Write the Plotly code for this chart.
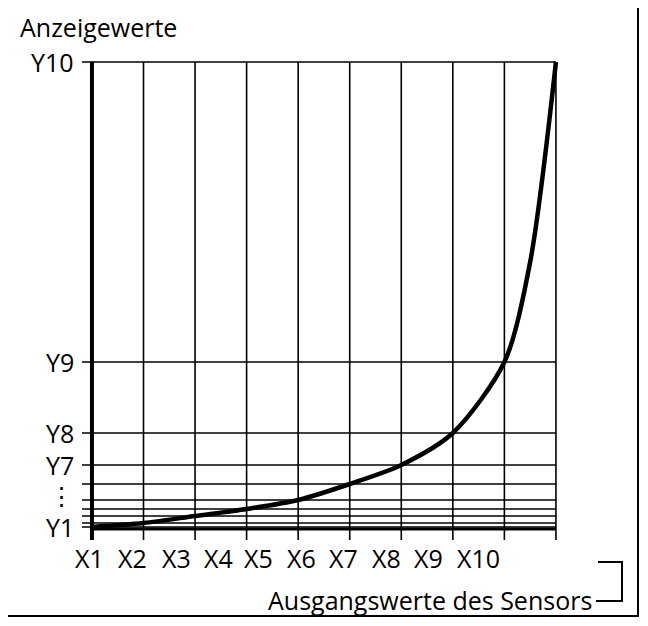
import plotly.graph_objects as go

x_labels = ["X1","X2","X3","X4","X5","X6","X7","X8","X9","X10"]
x_grid = [1,2,3,4,5,6,7,8,9,10]
x_label_pos = [0.96,1.79,2.64,3.45,4.24,5.07,5.88,6.71,7.52,8.49]
levels = [0,4,11,18,27,43,62,94,165,465]
curve_x = [1,2,3,4,5,6,7,8,9,9.5,10]
curve_y = [0,4,11,18,27,43,62,94,165,265,465]
y_labels = ["Y1","⋮","Y7","Y8","Y9","Y10"]
y_label_pos = [0,32,62,94,165,465]

OFF = 8
W,H = 632,610
L,R,T,B = 74,82,52,76
xr = [0.807, 10.04]
yr = [-15, 467]
def px(p): return (p-OFF-L)/(W-L-R)
def py(p): return (H-B-(p-OFF))/(H-T-B)

fig = go.Figure()
for xv in x_grid:
    fig.add_trace(go.Scatter(x=[xv,xv], y=[-13,465], mode="lines",
        line=dict(color="black", width=4 if xv==1 else 1.6), hoverinfo="skip"))
for yv in levels:
    fig.add_trace(go.Scatter(x=[0.807,10], y=[yv,yv], mode="lines",
        line=dict(color="black", width=1.6), hoverinfo="skip"))
fig.add_trace(go.Scatter(x=[1,10], y=[-2,-2], mode="lines", line=dict(color="black", width=3)))
fig.add_trace(go.Scatter(x=curve_x, y=curve_y, mode="lines",
    line=dict(color="black", width=4.5, shape="spline", smoothing=0.8)))

font = dict(family="Open Sans", size=25, color="black")
for lab, pos in zip(x_labels, x_label_pos):
    fig.add_annotation(x=pos, y=py(558), xref="x", yref="paper", text=lab, showarrow=False,
        yanchor="middle", xanchor="center", font=font)
for lab, pos in zip(y_labels, y_label_pos):
    fig.add_annotation(x=px(76), y=pos, xref="paper", yref="y", text=lab, showarrow=False,
        xanchor="right", yanchor="middle", font=font)
fig.add_annotation(x=px(18), y=py(27), xref="paper", yref="paper", text="Anzeigewerte",
    showarrow=False, xanchor="left", yanchor="middle", font=font)
fig.add_annotation(x=px(594), y=py(600), xref="paper", yref="paper", text="Ausgangswerte des Sensors",
    showarrow=False, xanchor="right", yanchor="middle", font=font)

fig.add_shape(type="rect", xref="paper", yref="paper", x0=px(4), x1=px(638), y0=py(616), y1=py(6),
    line=dict(color="black", width=2))
fig.add_shape(type="path", xref="paper", yref="paper",
    path=f"M {px(596)},{py(601)} L {px(622)},{py(601)} L {px(622)},{py(562)} L {px(598)},{py(562)}",
    line=dict(color="black", width=2))

fig.update_layout(width=W, height=H, margin=dict(l=L,r=R,t=T,b=B), showlegend=False,
    plot_bgcolor="white", paper_bgcolor="white",
    xaxis=dict(range=xr, visible=False), yaxis=dict(range=yr, visible=False))
fig.write_html("out.html")
